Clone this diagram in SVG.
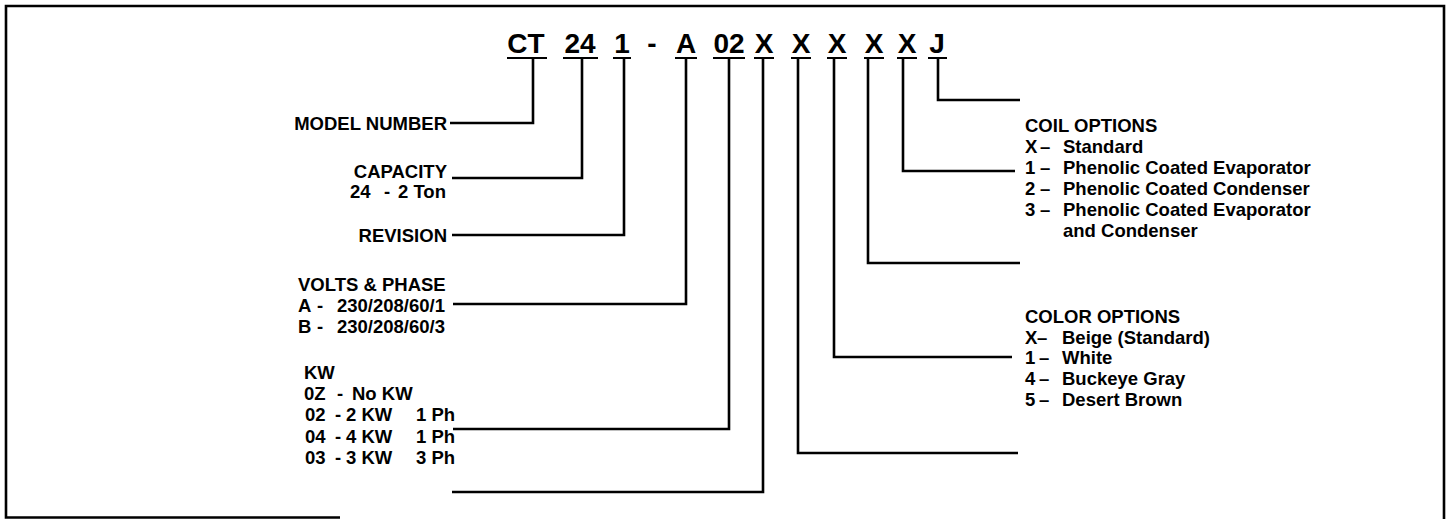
<svg xmlns="http://www.w3.org/2000/svg" width="1447" height="519" viewBox="0 0 1447 519">
<style>
.t{font-family:"Liberation Sans",Arial,sans-serif;font-weight:bold;font-size:18.5px;fill:#000}
.c{font-family:"Liberation Sans",Arial,sans-serif;font-weight:bold;font-size:28px;fill:#000;text-anchor:middle}
.r{text-anchor:end}
.ln{fill:none;stroke:#000;stroke-width:2.6}
.ul{fill:none;stroke:#000;stroke-width:2}
</style>
<rect width="1447" height="519" fill="#fff"/>
<path id="frame" class="ln" d="M340 517.5 H6 V6 H1444 V519"/>

<g id="code">
  <g id="code-CT"><text class="c" x="526" y="53">CT</text><line class="ul" x1="507" y1="58" x2="547" y2="58"/></g>
  <g id="code-24"><text class="c" x="580" y="53">24</text><line class="ul" x1="563" y1="58" x2="598" y2="58"/></g>
  <g id="code-1"><text class="c" x="622" y="53">1</text><line class="ul" x1="613" y1="58" x2="631" y2="58"/></g>
  <g id="code-dash"><text class="c" x="652" y="53">-</text></g>
  <g id="code-A"><text class="c" x="686" y="53">A</text><line class="ul" x1="675" y1="58" x2="697" y2="58"/></g>
  <g id="code-02"><text class="c" x="729" y="53">02</text><line class="ul" x1="713" y1="58" x2="745" y2="58"/></g>
  <g id="code-X1"><text class="c" x="764" y="53">X</text><line class="ul" x1="754" y1="58" x2="774" y2="58"/></g>
  <g id="code-X2"><text class="c" x="801" y="53">X</text><line class="ul" x1="791" y1="58" x2="811" y2="58"/></g>
  <g id="code-X3"><text class="c" x="837" y="53">X</text><line class="ul" x1="827" y1="58" x2="847" y2="58"/></g>
  <g id="code-X4"><text class="c" x="874" y="53">X</text><line class="ul" x1="864" y1="58" x2="884" y2="58"/></g>
  <g id="code-X5"><text class="c" x="907" y="53">X</text><line class="ul" x1="897" y1="58" x2="917" y2="58"/></g>
  <g id="code-J"><text class="c" x="937" y="53">J</text><line class="ul" x1="928" y1="58" x2="947" y2="58"/></g>
</g>

<g id="connectors">
  <path class="ln" d="M533 58 V123 H450"/>
  <path class="ln" d="M582 58 V178 H452"/>
  <path class="ln" d="M624 58 V235 H452"/>
  <path class="ln" d="M686 58 V304 H453"/>
  <path class="ln" d="M729 58 V429 H453"/>
  <path class="ln" d="M763 58 V492 H452"/>
  <path class="ln" d="M798 58 V453 H1018"/>
  <path class="ln" d="M834 58 V357 H1012"/>
  <path class="ln" d="M868 58 V263 H1020"/>
  <path class="ln" d="M903 58 V171 H1015"/>
  <path class="ln" d="M938 58 V100 H1020"/>
</g>

<g id="model-number"><text class="t r" x="447" y="130">MODEL NUMBER</text></g>

<g id="capacity">
  <text class="t r" x="447" y="178">CAPACITY</text>
  <text class="t" y="198"><tspan x="350">24</tspan><tspan x="384">-</tspan><tspan x="398">2 Ton</tspan></text>
</g>

<g id="revision"><text class="t r" x="447" y="242">REVISION</text></g>

<g id="volts-phase">
  <text class="t" x="298" y="291">VOLTS &amp; PHASE</text>
  <text class="t" y="312"><tspan x="298">A</tspan><tspan x="317">-</tspan><tspan x="337">230/208/60/1</tspan></text>
  <text class="t" y="333"><tspan x="298">B</tspan><tspan x="317">-</tspan><tspan x="337">230/208/60/3</tspan></text>
</g>

<g id="kw">
  <text class="t" x="304" y="379">KW</text>
  <text class="t" y="400"><tspan x="304">0Z</tspan><tspan x="337">-</tspan><tspan x="352">No KW</tspan></text>
  <text class="t" y="421"><tspan x="305">02</tspan><tspan x="335">-</tspan><tspan x="346">2 KW</tspan><tspan x="416">1 Ph</tspan></text>
  <text class="t" y="443"><tspan x="305">04</tspan><tspan x="335">-</tspan><tspan x="346">4 KW</tspan><tspan x="416">1 Ph</tspan></text>
  <text class="t" y="464"><tspan x="305">03</tspan><tspan x="335">-</tspan><tspan x="346">3 KW</tspan><tspan x="416">3 Ph</tspan></text>
</g>

<g id="coil-options">
  <text class="t" x="1025" y="132">COIL OPTIONS</text>
  <text class="t" y="153"><tspan x="1025">X</tspan><tspan x="1040">–</tspan><tspan x="1063">Standard</tspan></text>
  <text class="t" y="174"><tspan x="1025">1</tspan><tspan x="1040">–</tspan><tspan x="1063">Phenolic Coated Evaporator</tspan></text>
  <text class="t" y="195"><tspan x="1025">2</tspan><tspan x="1040">–</tspan><tspan x="1063">Phenolic Coated Condenser</tspan></text>
  <text class="t" y="216"><tspan x="1025">3</tspan><tspan x="1040">–</tspan><tspan x="1063">Phenolic Coated Evaporator</tspan></text>
  <text class="t" x="1063" y="237">and Condenser</text>
</g>

<g id="color-options">
  <text class="t" x="1025" y="323">COLOR OPTIONS</text>
  <text class="t" y="344"><tspan x="1025">X</tspan><tspan x="1037">–</tspan><tspan x="1062">Beige (Standard)</tspan></text>
  <text class="t" y="364"><tspan x="1025">1</tspan><tspan x="1039">–</tspan><tspan x="1062">White</tspan></text>
  <text class="t" y="385"><tspan x="1025">4</tspan><tspan x="1039">–</tspan><tspan x="1062">Buckeye Gray</tspan></text>
  <text class="t" y="406"><tspan x="1025">5</tspan><tspan x="1039">–</tspan><tspan x="1062">Desert Brown</tspan></text>
</g>
</svg>
